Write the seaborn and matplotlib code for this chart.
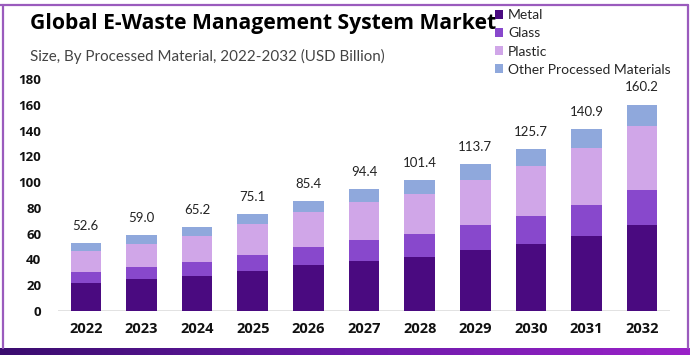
import numpy as np
import pandas as pd
import matplotlib
matplotlib.use("Agg")
import matplotlib.pyplot as plt
from matplotlib.patches import Patch
from matplotlib.lines import Line2D
import seaborn as sns

years = ["2022", "2023", "2024", "2025", "2026", "2027", "2028", "2029", "2030", "2031", "2032"]
metal = [22.0, 24.6, 27.2, 31.3, 35.4, 38.8, 41.9, 47.3, 52.2, 58.4, 66.5]
glass = [8.2, 9.8, 11.1, 12.1, 14.3, 16.3, 17.6, 19.2, 21.3, 24.1, 27.6]
plastic = [16.6, 17.8, 19.9, 24.1, 26.9, 29.2, 31.3, 35.1, 39.0, 44.0, 49.4]
other = [5.8, 6.8, 7.0, 7.6, 8.8, 10.1, 10.6, 12.1, 13.2, 14.4, 16.7]
totals = [52.6, 59.0, 65.2, 75.1, 85.4, 94.4, 101.4, 113.7, 125.7, 140.9, 160.2]
series_names = ["Metal", "Glass", "Plastic", "Other Processed Materials"]
colors = ["#4a0a80", "#8848cc", "#d0a6e8", "#8fa8dc"]
yticks = [0, 20, 40, 60, 80, 100, 120, 140, 160, 180]

sns.set_theme(style="white")
plt.rcParams["font.family"] = ["Open Sans", "DejaVu Sans"]

df = pd.DataFrame({"year": years, "Metal": metal, "Glass": glass,
                   "Plastic": plastic, "Other Processed Materials": other})
cum = df[series_names].cumsum(axis=1)

fig = plt.figure(figsize=(6.96, 3.55), dpi=100)
ax = fig.add_axes([58 / 696, 1 - 311 / 355, (670 - 58) / 696, (311 - 79) / 355])

# overlay cumulative bars, tallest first
for name, col in reversed(list(zip(series_names, colors))):
    sns.barplot(x=df["year"], y=cum[name], color=col, width=0.55,
                saturation=1, ax=ax, edgecolor="none")

ax.set_xlim(-0.5, 10.5)
ax.set_ylim(0, 180)
ax.set_yticks(yticks)
ax.set_yticklabels([str(v) for v in yticks], fontsize=9.5, fontweight="bold",
                   color="#111111")
ax.tick_params(axis="y", pad=12, length=0)
ax.tick_params(axis="x", pad=8, length=0)
for lab in ax.get_xticklabels():
    lab.set_fontsize(10.5)
    lab.set_fontweight("bold")
    lab.set_color("#111111")
ax.set_xlabel("")
ax.set_ylabel("")
for s in ax.spines.values():
    s.set_visible(False)
ax.axhline(0, color="#dddddd", lw=1.2, zorder=0)

for i, t in enumerate(totals):
    ax.annotate(f"{t:.1f}", (i, t), xytext=(0, 8), textcoords="offset points",
                ha="center", va="bottom", fontsize=9.5, color="#222222",
                family=["Lato", "DejaVu Sans"])

# Titles
fig.text(30 / 696, 1 - 24 / 355, "Global E-Waste Management System Market",
         fontsize=15.2, fontweight="bold", color="#000000", va="center", ha="left")
fig.text(30 / 696, 1 - 56 / 355, "Size, By Processed Material, 2022-2032 (USD Billion)",
         fontsize=10.9, color="#444444", va="center", ha="left",
         family=["Lato", "DejaVu Sans"])

# Legend
handles = [Patch(facecolor=c, edgecolor="none") for c in colors]
fig.legend(handles, series_names, loc="upper left",
           bbox_to_anchor=(495 / 696, 1 - 9 / 355), frameon=False,
           handlelength=0.6, handleheight=0.6, handletextpad=0.35,
           labelspacing=0.45, borderpad=0, borderaxespad=0,
           prop={"family": ["Lato", "DejaVu Sans"], "size": 10})

# Frame border
bcol = "#9a5bbd"
fig.add_artist(Line2D([0, 688 / 696], [1 - 5 / 355] * 2, transform=fig.transFigure,
                      color=bcol, lw=1.6))
fig.add_artist(Line2D([3 / 696] * 2, [1 - 5 / 355, 1 - 348 / 355],
                      transform=fig.transFigure, color=bcol, lw=1.6))
fig.add_artist(Line2D([688 / 696] * 2, [1 - 5 / 355, 1 - 348 / 355],
                      transform=fig.transFigure, color=bcol, lw=1.6))

# Bottom gradient band
bax = fig.add_axes([0, 0, 690 / 696, 7 / 355])
grad = np.linspace(0, 1, 256).reshape(1, -1)
cmap = matplotlib.colors.LinearSegmentedColormap.from_list(
    "band", ["#3a0c6e", "#6a1aa8", "#9a22c8"])
bax.imshow(grad, aspect="auto", cmap=cmap)
bax.set_axis_off()

fig.savefig("out.png", dpi=100)
